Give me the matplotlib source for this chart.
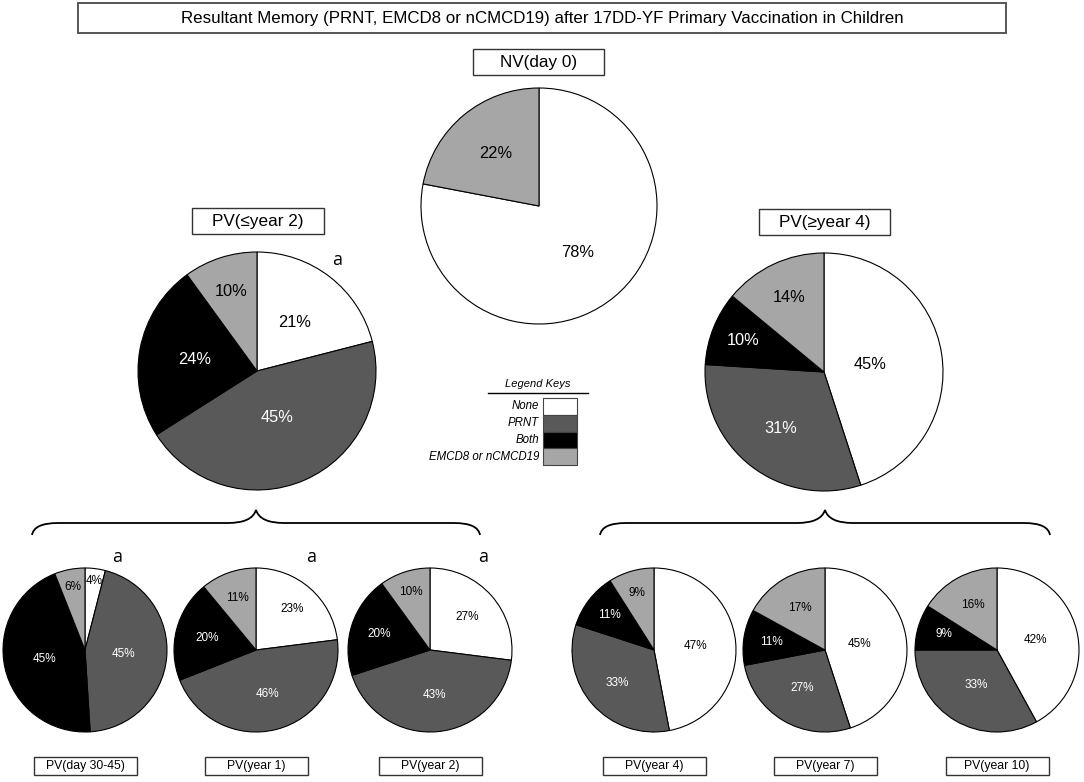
import numpy as np
import matplotlib.pyplot as plt
from matplotlib.patches import Rectangle, PathPatch
from matplotlib.path import Path

W, H = 1084, 782
plt.rcParams['font.family'] = ['Liberation Sans', 'DejaVu Sans']

# data: share (%) of each memory category, clockwise from 12 o'clock
categories = ['None', 'PRNT', 'Both', 'EMCD8 or nCMCD19']
nv_day0 = [78, 0, 0, 22]
pv_le_year2 = [21, 45, 24, 10]
pv_ge_year4 = [45, 31, 10, 14]
pv_day30_45 = [4, 45, 45, 6]
pv_year1 = [23, 46, 20, 11]
pv_year2 = [27, 43, 20, 10]
pv_year4 = [47, 33, 11, 9]
pv_year7 = [45, 27, 11, 17]
pv_year10 = [42, 33, 9, 16]
small_titles = ['PV(day 30-45)', 'PV(year 1)', 'PV(year 2)',
                'PV(year 4)', 'PV(year 7)', 'PV(year 10)']
small_flags = ['a', 'a', 'a', '', '', '']

colors = ['white', '#595959', 'black', '#a6a6a6']
text_colors = ['black', 'white', 'white', 'black']

fig = plt.figure(figsize=(W / 100, H / 100), dpi=100)
ax = fig.add_axes([0, 0, 1, 1])


def draw_pie(values, cx, cy, r, fs, dists):
    # y axis is inverted (pixel coords), so counterclock=True with
    # startangle=-90 reads as clockwise from the top
    keep = [i for i, v in enumerate(values) if v > 0]
    vals = [values[i] for i in keep]
    wedges, _, autotexts = ax.pie(
        vals, colors=[colors[i] for i in keep], center=(cx, cy), radius=r,
        startangle=-90, counterclock=True, frame=True,
        autopct=lambda p: f'{p:.0f}%',
        wedgeprops=dict(edgecolor='black', linewidth=0.8),
        textprops=dict(fontsize=fs))
    for w, t, d, i in zip(wedges, autotexts, dists, keep):
        mid = np.deg2rad((w.theta1 + w.theta2) / 2)
        t.set_position((cx + d * r * np.cos(mid), cy + d * r * np.sin(mid)))
        t.set_color(text_colors[i])
        t.set_ha('center')
        t.set_va('center')


def label_box(cx, cy, w, h, text, fs, ec='#333333', lw=1.0):
    ax.add_patch(Rectangle((cx - w / 2, cy - h / 2), w, h, facecolor='white',
                           edgecolor=ec, linewidth=lw, zorder=3))
    ax.text(cx, cy + 0.5, text, ha='center', va='center', fontsize=fs, zorder=4)


def brace(x0, xm, x1, y_end=535, y_mid=523, y_peak=510):
    verts = [(x0, y_end), (x0 + 2, y_mid), (x0 + 26, y_mid),
             (xm - 28, y_mid),
             (xm - 4, y_mid), (xm, y_peak),
             (xm + 4, y_mid), (xm + 28, y_mid),
             (x1 - 26, y_mid),
             (x1 - 2, y_mid), (x1, y_end)]
    codes = [Path.MOVETO, Path.CURVE3, Path.CURVE3, Path.LINETO,
             Path.CURVE3, Path.CURVE3, Path.CURVE3, Path.CURVE3,
             Path.LINETO, Path.CURVE3, Path.CURVE3]
    ax.add_patch(PathPatch(Path(verts, codes), facecolor='none',
                           edgecolor='black', linewidth=1.3))


# title
label_box(542, 18, 928, 30,
          'Resultant Memory (PRNT, EMCD8 or nCMCD19) after 17DD-YF Primary Vaccination in Children',
          12.2, ec='#555555', lw=1.4)

# top pie
label_box(538.5, 62, 131, 26, 'NV(day 0)', 12.3)
draw_pie(nv_day0, 539, 206, 118, 11.8, [0.51, 0.58])

# middle pies
label_box(258, 221, 132, 26, 'PV(≤year 2)', 12.3)
draw_pie(pv_le_year2, 257, 371, 119, 11.8, [0.52, 0.43, 0.53, 0.70])
ax.text(337, 260, 'a', fontsize=13, family='Open Sans', ha='center', va='center')

label_box(824.5, 222, 131, 26, 'PV(≥year 4)', 12.3)
draw_pie(pv_ge_year4, 824, 372, 119, 11.8, [0.39, 0.60, 0.73, 0.69])

# legend keys
ax.text(538, 384, 'Legend Keys', fontsize=8, style='italic', ha='center', va='center')
ax.plot([488, 588], [393, 393], color='black', lw=1)
row_h = 16.75
for k, (name, c) in enumerate(zip(categories, colors)):
    y0 = 398 + k * row_h
    ax.add_patch(Rectangle((543, y0), 34, row_h, facecolor=c,
                           edgecolor='#444444', linewidth=0.8))
    ax.text(539, y0 + row_h / 2, name, fontsize=8.3, style='italic',
            ha='right', va='center')

# braces
brace(32, 256, 480)
brace(600, 825, 1050)

# bottom pies
small_sets = [pv_day30_45, pv_year1, pv_year2, pv_year4, pv_year7, pv_year10]
small_x = [85, 256, 430, 654, 825, 997]
small_dists = [[0.85, 0.47, 0.50, 0.78],
               [0.67, 0.56, 0.61, 0.68],
               [0.61, 0.55, 0.65, 0.74],
               [0.51, 0.60, 0.69, 0.73],
               [0.43, 0.54, 0.66, 0.60],
               [0.48, 0.50, 0.68, 0.62]]
flag_x = [117, 311, 483]
for k, vals in enumerate(small_sets):
    draw_pie(vals, small_x[k], 650, 82, 8.5, small_dists[k])
    label_box(small_x[k], 766, 103, 18, small_titles[k], 8.8)
    if small_flags[k]:
        ax.text(flag_x[k], 557, small_flags[k], fontsize=13, family='Open Sans',
                ha='center', va='center')

ax.set_xlim(0, W)
ax.set_ylim(H, 0)
ax.set_aspect('auto')
ax.axis('off')

fig.savefig('out.png', dpi=100, facecolor='white')
